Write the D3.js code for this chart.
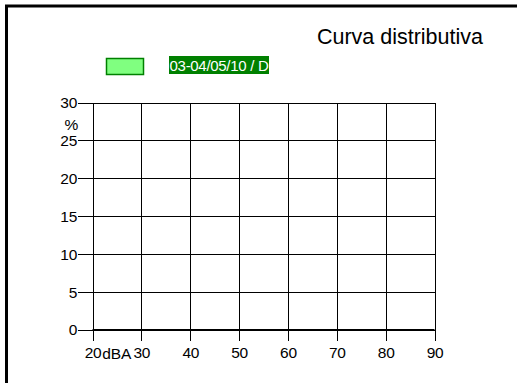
<!DOCTYPE html>
<html><head><meta charset="utf-8">
<script src="https://cdn.jsdelivr.net/npm/d3@7"></script>
<style>
html,body{margin:0;padding:0;background:#fff;}
svg{display:block;font-family:"Liberation Sans",Arial,sans-serif;}
</style></head>
<body>
<svg id="c" width="517" height="383"></svg>
<script>
const title = "Curva distributiva";
const seriesName = "03-04/05/10 / D";
const xTicks = [20,30,40,50,60,70,80,90];
const yTicks = [0,5,10,15,20,25,30];
const xUnit = "dBA";
const yUnit = "%";
// distribution values per band (all zero in the reference)
const bands = [20,30,40,50,60,70,80];
const values = [0,0,0,0,0,0,0];

const svg = d3.select("#c");
const x = d3.scaleLinear().domain([20,90]).range([92.5,434.5]);
const y = d3.scaleLinear().domain([0,30]).range([330,102.5]);
const FF = "Liberation Sans, Arial, sans-serif";

// frame
svg.append("rect").attr("x",6.5).attr("y",6).attr("width",600).attr("height",500)
  .attr("fill","none").attr("stroke","#000").attr("stroke-width",3);

// title
svg.append("text").attr("x",483).attr("y",43.5).attr("text-anchor","end")
  .attr("font-size",21.5).attr("letter-spacing",0).attr("fill","#000").text(title);

// legend
svg.append("rect").attr("x",106.5).attr("y",58.5).attr("width",37).attr("height",16)
  .attr("fill","#80ff80").attr("stroke","#008000").attr("stroke-width",1.5);
svg.append("rect").attr("x",169).attr("y",56).attr("width",100).attr("height",18).attr("fill","#008000");
svg.append("text").attr("x",219).attr("y",70.5).attr("text-anchor","middle")
  .attr("font-size",15).attr("letter-spacing",-0.3).attr("fill","#fff").text(seriesName);

// grid with axes
const g = svg.append("g");
const yAxis = d3.axisLeft(y).tickValues(yTicks).tickSize(x.range()[1]-78).tickPadding(1).tickFormat(d3.format("d"));
const ya = g.append("g").attr("transform",`translate(${x.range()[1]},0)`).call(yAxis);
ya.select(".domain").remove();
ya.selectAll(".tick line").attr("stroke","#000").attr("shape-rendering","crispEdges");
ya.selectAll(".tick text").attr("font-size",15.5).attr("letter-spacing",-0.3).attr("fill","#000")
  .attr("font-family",FF);

const xAxis = d3.axisBottom(x).tickValues(xTicks).tickSize(341-102.5).tickPadding(6).tickFormat(d3.format("d"));
const xa = g.append("g").attr("transform",`translate(0,${y(30)})`).call(xAxis);
xa.select(".domain").remove();
xa.selectAll(".tick line").attr("stroke","#000").attr("shape-rendering","crispEdges");
xa.selectAll(".tick text").attr("font-size",15.5).attr("letter-spacing",-0.3).attr("fill","#000")
  .attr("font-family",FF);

// zero baseline (bars of zero height sit on it)
g.append("line").attr("x1",x(20)).attr("x2",x(90)).attr("y1",y(0)).attr("y2",y(0))
  .attr("stroke","#000").attr("stroke-width",2);
g.selectAll("rect.bar").data(bands).join("rect").attr("class","bar")
  .attr("x",d=>x(d)).attr("width",d=>x(d+10)-x(d))
  .attr("y",(d,i)=>y(values[i])).attr("height",(d,i)=>y(0)-y(values[i]))
  .attr("fill","#80ff80");

// units
svg.append("text").attr("x",116.7).attr("y",358.5).attr("text-anchor","middle")
  .attr("font-size",15.5).attr("letter-spacing",-0.2).attr("fill","#000").text(xUnit);
svg.append("text").attr("x",71.5).attr("y",130).attr("text-anchor","middle")
  .attr("font-size",15.5).attr("fill","#000").text(yUnit);
</script>
</body></html>
